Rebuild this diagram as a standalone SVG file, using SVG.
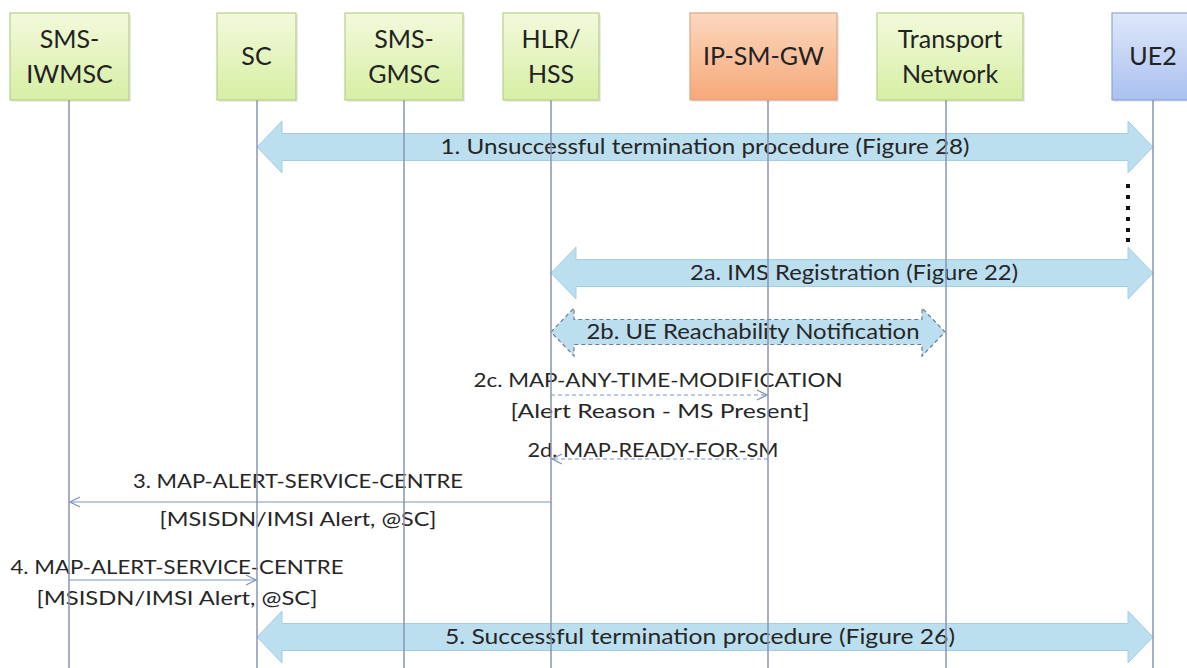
<svg xmlns="http://www.w3.org/2000/svg" width="1187" height="668" viewBox="0 0 1187 668">
<defs>
<linearGradient id="gGreen" x1="0" y1="0" x2="0" y2="1"><stop offset="0" stop-color="#f3f9dc"/><stop offset="1" stop-color="#d6efa4"/></linearGradient>
<linearGradient id="gOrange" x1="0" y1="0" x2="0" y2="1"><stop offset="0" stop-color="#fcd8bf"/><stop offset="1" stop-color="#f6a878"/></linearGradient>
<linearGradient id="gBlue" x1="0" y1="0" x2="0" y2="1"><stop offset="0" stop-color="#dfe8fa"/><stop offset="1" stop-color="#a9c0ef"/></linearGradient>
<marker id="open" viewBox="0 0 12 12" refX="11" refY="6" markerWidth="12" markerHeight="12" markerUnits="userSpaceOnUse" orient="auto">
<path d="M1,1 L11,6 L1,11" fill="none" stroke="#7d93c4" stroke-width="1.2"/>
</marker>
</defs>
<style>
.box{stroke-width:1.2}
.green{fill:url(#gGreen);stroke:#b7cf8c}
.orange{fill:url(#gOrange);stroke:#e2a682}
.blue{fill:url(#gBlue);stroke:#8ea6d6}
.shadow{fill:#000;opacity:0.08}
.life{stroke:#8894b4;stroke-width:1.5}
.nl{font-family:Lato,"Liberation Sans",sans-serif;font-size:25px;fill:#222;text-anchor:middle}
.big{fill:#bcdff0;stroke:#a7cde4;stroke-width:1}
.bigd{fill:#bcdff0;stroke:#6f7a8a;stroke-width:1.2;stroke-dasharray:4 3}
.al{font-family:Lato,"Liberation Sans",sans-serif;font-size:21px;fill:#262626;text-anchor:middle}
.ml{font-family:Lato,"Liberation Sans",sans-serif;font-size:19.5px;fill:#262626;text-anchor:middle}
.msg{stroke:#7d93c4;stroke-width:1.2;fill:none}
.dash{stroke-dasharray:4 3}
</style>
<rect width="1187" height="668" fill="#fff"/>
<g id="connectors">
<path class="big" d="M257,147 L282,121 L282,133.5 L1128,133.5 L1128,121 L1153,147 L1128,173 L1128,160.5 L282,160.5 L282,173 Z"/>
<text class="al" x="705" y="154" textLength="529" lengthAdjust="spacingAndGlyphs">1. Unsuccessful termination procedure (Figure 28)</text>
<g fill="#111"><rect x="1126" y="184" width="4" height="4"/><rect x="1126" y="195" width="4" height="4"/><rect x="1126" y="206" width="4" height="4"/><rect x="1126" y="217" width="4" height="4"/><rect x="1126" y="228" width="4" height="4"/><rect x="1126" y="238" width="4" height="4"/></g>
<path class="big" d="M551,273 L576,247 L576,259.5 L1128,259.5 L1128,247 L1153,273 L1128,299 L1128,286.5 L576,286.5 L576,299 Z"/>
<text class="al" x="854" y="280" textLength="328" lengthAdjust="spacingAndGlyphs">2a. IMS Registration (Figure 22)</text>
<path class="bigd" d="M551,332 L574,308 L574,319.5 L922,319.5 L922,308 L945,332 L922,356 L922,344.5 L574,344.5 L574,356 Z"/>
<text class="al" x="753" y="339" textLength="333" lengthAdjust="spacingAndGlyphs">2b. UE Reachability Notification</text>
<text class="ml" x="658" y="387" textLength="369" lengthAdjust="spacingAndGlyphs">2c. MAP-ANY-TIME-MODIFICATION</text>
<line class="msg dash" x1="551" y1="395" x2="767" y2="395" marker-end="url(#open)"/>
<text class="ml" x="660" y="418" textLength="299" lengthAdjust="spacingAndGlyphs">[Alert Reason - MS Present]</text>
<text class="ml" x="653" y="457" textLength="251" lengthAdjust="spacingAndGlyphs">2d. MAP-READY-FOR-SM</text>
<line class="msg dash" x1="768" y1="459" x2="552" y2="459" marker-end="url(#open)"/>
<text class="ml" x="298" y="488" textLength="330" lengthAdjust="spacingAndGlyphs">3. MAP-ALERT-SERVICE-CENTRE</text>
<line class="msg" x1="551" y1="502" x2="70" y2="502" marker-end="url(#open)"/>
<text class="ml" x="298" y="526" textLength="277" lengthAdjust="spacingAndGlyphs">[MSISDN/IMSI Alert, @SC]</text>
<text class="ml" x="177" y="574" textLength="333" lengthAdjust="spacingAndGlyphs">4. MAP-ALERT-SERVICE-CENTRE</text>
<line class="msg" x1="69" y1="580" x2="256" y2="580" marker-end="url(#open)"/>
<text class="ml" x="177" y="605" textLength="281" lengthAdjust="spacingAndGlyphs">[MSISDN/IMSI Alert, @SC]</text>
<path class="big" d="M257,637 L282,611 L282,623.5 L1128,623.5 L1128,611 L1153,637 L1128,663 L1128,650.5 L282,650.5 L282,663 Z"/>
<text class="al" x="700" y="644" textLength="510" lengthAdjust="spacingAndGlyphs">5. Successful termination procedure (Figure 26)</text>
</g>
<g id="node-sms-iwmsc">
<line class="life" x1="69" y1="100" x2="69" y2="668"/>
<rect class="shadow" x="12" y="15" width="119" height="87"/>
<rect class="box green" x="10" y="13" width="119" height="87"/>
<text class="nl" x="69.5" y="48">SMS-</text>
<text class="nl" x="69.5" y="83">IWMSC</text>
</g>
<g id="node-sc">
<line class="life" x1="257" y1="100" x2="257" y2="668"/>
<rect class="shadow" x="219" y="15" width="79" height="87"/>
<rect class="box green" x="217" y="13" width="79" height="87"/>
<text class="nl" x="256.5" y="65">SC</text>
</g>
<g id="node-sms-gmsc">
<line class="life" x1="404" y1="100" x2="404" y2="668"/>
<rect class="shadow" x="347" y="15" width="118" height="87"/>
<rect class="box green" x="345" y="13" width="118" height="87"/>
<text class="nl" x="404" y="48">SMS-</text>
<text class="nl" x="404" y="83">GMSC</text>
</g>
<g id="node-hlr-hss">
<line class="life" x1="551" y1="100" x2="551" y2="668"/>
<rect class="shadow" x="505" y="15" width="96" height="87"/>
<rect class="box green" x="503" y="13" width="96" height="87"/>
<text class="nl" x="551" y="48">HLR/</text>
<text class="nl" x="551" y="83">HSS</text>
</g>
<g id="node-ip-sm-gw">
<line class="life" x1="768" y1="100" x2="768" y2="668"/>
<rect class="shadow" x="692" y="15" width="147" height="87"/>
<rect class="box orange" x="690" y="13" width="147" height="87"/>
<text class="nl" x="763.5" y="65">IP-SM-GW</text>
</g>
<g id="node-transport">
<line class="life" x1="946" y1="100" x2="946" y2="668"/>
<rect class="shadow" x="879" y="15" width="146" height="87"/>
<rect class="box green" x="877" y="13" width="146" height="87"/>
<text class="nl" x="950" y="48">Transport</text>
<text class="nl" x="950" y="83">Network</text>
</g>
<g id="node-ue2">
<line class="life" x1="1153" y1="100" x2="1153" y2="668"/>
<rect class="shadow" x="1114" y="15" width="80" height="87"/>
<rect class="box blue" x="1112" y="13" width="80" height="87"/>
<text class="nl" x="1153" y="65">UE2</text>
</g>
</svg>
